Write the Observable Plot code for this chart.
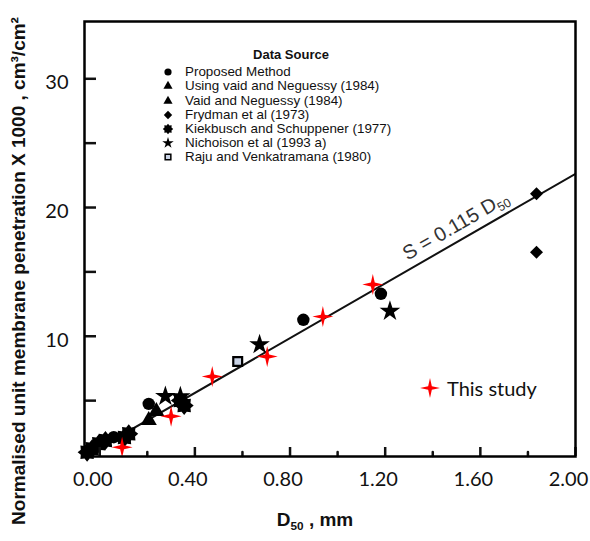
<!DOCTYPE html>
<html><head><meta charset="utf-8">
<script src="https://cdn.jsdelivr.net/npm/d3@7"></script>
<script src="https://cdn.jsdelivr.net/npm/@observablehq/plot@0.6"></script>
<style>
body{margin:0;background:#fff;}
#wrap{position:relative;width:590px;height:541px;overflow:hidden;}
.leg{position:absolute;font-family:"Liberation Sans",Arial,sans-serif;color:#111;white-space:nowrap;}
</style></head><body><div id="wrap"></div>
<script>
// ---- data ----
const proposedX = [0.059, 0.206, 0.856, 1.182];
const proposedY = [2.16, 4.75, 11.28, 13.30];
const usingVaidX = [0.238];
const usingVaidY = [4.16];
const vaidX = [0.206];
const vaidY = [3.46];
const frydmanX = [1.836, 1.836];
const frydmanY = [21.07, 16.53];
const kiekX = [-0.053, -0.032, -0.004, 0.024, 0.104, 0.122, 0.339, 0.355];
const kiekY = [0.99, 1.26, 1.65, 1.90, 2.14, 2.42, 5.01, 4.62];
const nichX = [0.276, 0.339, 0.672, 1.220];
const nichY = [5.34, 5.32, 9.36, 11.95];
const rajuX = [0.580];
const rajuY = [8.04];
const studyX = [0.094, 0.300, 0.473, 0.704, 0.938, 1.148];
const studyY = [1.38, 3.79, 6.87, 8.43, 11.53, 14.02];
const fitX = [-0.1, 2.0];
const fitY = [0.28, 22.62];
const xMajor = [0, 0.4, 0.8, 1.2, 1.6, 2.0];
const xMinor = [0.2, 0.6, 1.0, 1.4, 1.8];
const yMajor = [10, 20, 30];
const yAllTicks = [5, 10, 15, 20, 25, 30];
const legendLabels = ["Proposed Method", "Using vaid and Neguessy (1984)", "Vaid and Neguessy (1984)",
  "Frydman et al (1973)", "Kiekbusch and Schuppener (1977)", "Nichoison et al (1993 a)", "Raju and Venkatramana (1980)"];
const legendTitle = "Data Source";
const studyLabel = "This study";
const fitLabel = "S = 0.115 D50";
const fitLabelAt = {x: 1.496, y: 18.6};
const xTitle = "D50 , mm";
const yTitle = "Normalised unit membrane penetration X 1000 , cm\u00b3/cm\u00b2";

// ---- custom symbols ----
function polySym(n, innerRatio, rot = -Math.PI / 2) {
  return {draw(ctx, size) {
    const R = Math.sqrt(size / Math.PI), r = R * innerRatio;
    for (let i = 0; i < 2 * n; i++) {
      const a = rot + i * Math.PI / n, rad = i % 2 === 0 ? R : r;
      const x = rad * Math.cos(a), y = rad * Math.sin(a);
      i ? ctx.lineTo(x, y) : ctx.moveTo(x, y);
    }
    ctx.closePath();
  }};
}
const symSparkle = polySym(4, 0.26);
const symBlob = polySym(8, 0.72);
const symDiamond = {draw(ctx, size) {
  const R = Math.sqrt(size / Math.PI);
  ctx.moveTo(0, -R); ctx.lineTo(R, 0); ctx.lineTo(0, R); ctx.lineTo(-R, 0); ctx.closePath();
}};

const toRows = (xs, ys) => xs.map((x, i) => ({x, y: ys[i]}));

const chart = Plot.plot({
  width: 590, height: 541,
  marginTop: 21, marginRight: 15, marginBottom: 85, marginLeft: 84,
  x: {domain: [-0.064, 2.0]},
  y: {domain: [0.66, 34.45]},
  style: {fontFamily: "Lato, sans-serif", background: "white", color: "#111"},
  marks: [
    Plot.line(toRows(fitX, fitY), {x: "x", y: "y", stroke: "#111", strokeWidth: 2, clip: true}),
    Plot.text([{...fitLabelAt, t: fitLabel}], {x: "x", y: "y", text: "t", rotate: -30, fontSize: 20,
      fontFamily: "Liberation Sans, Arial, sans-serif", fill: "#333"}),
    Plot.dot(toRows(kiekX, kiekY), {x: "x", y: "y", symbol: symBlob, r: 9.5, fill: "black"}),
    Plot.dot(toRows(proposedX, proposedY), {x: "x", y: "y", symbol: "circle", r: 6.2, fill: "black"}),
    Plot.dot(toRows(usingVaidX, usingVaidY), {x: "x", y: "y", symbol: "triangle", r: 6, fill: "black"}),
    Plot.dot(toRows(vaidX, vaidY), {x: "x", y: "y", symbol: "triangle", r: 6, fill: "black"}),
    Plot.dot(toRows(frydmanX, frydmanY), {x: "x", y: "y", symbol: symDiamond, r: 6.5, fill: "black"}),
    Plot.dot(toRows(nichX, nichY), {x: "x", y: "y", symbol: "star", r: 6.5, fill: "black"}),
    Plot.dot(toRows(rajuX, rajuY), {x: "x", y: "y", symbol: "square", r: 5, fill: "#c9d3e6", stroke: "black", strokeWidth: 2.2}),
    Plot.dot(toRows(studyX, studyY), {x: "x", y: "y", symbol: symSparkle, r: 10.5, fill: "#ff0000"}),
    Plot.axisX({ticks: xMajor, tickSize: 0, tickPadding: 15, tickFormat: d3.format(".2f"), dx: -7, fontSize: 20, label: null}),
    Plot.axisX({ticks: xMajor, tickSize: -9, fill: "none", strokeWidth: 2.5, label: null}),
    Plot.axisX({ticks: xMinor, tickSize: -4, fill: "none", strokeWidth: 2.5, strokeLinecap: "round", label: null}),
    Plot.axisY({ticks: yMajor, tickSize: 0, tickPadding: 16, dy: 4, fontSize: 20, label: null}),
    Plot.axisY({ticks: yAllTicks, tickSize: -12, fill: "none", strokeWidth: 2.5, label: null}),
    Plot.frame({stroke: "black", strokeWidth: 2.5}),
    Plot.text([xTitle], {frameAnchor: "bottom", dy: 69, dx: -15, fontWeight: "bold", fontSize: 19,
      fontFamily: "Liberation Sans, Arial, sans-serif", fill: "#111"}),
    Plot.text([yTitle], {frameAnchor: "left", textAnchor: "middle", rotate: -90, dx: -66, dy: 32, fontWeight: "bold", fontSize: 19,
      fontFamily: "Liberation Sans, Arial, sans-serif", fill: "#111"})
  ]
});

// subscripts for "D50"
d3.select(chart).selectAll("text").each(function() {
  const t = this.textContent;
  if (this.children.length === 0 && t.includes("D50")) {
    const [a, b] = t.split("D50");
    const sel = d3.select(this);
    sel.text(null);
    sel.append("tspan").text(a + "D");
    sel.append("tspan").attr("font-size", "0.62em").attr("dy", "4").text("50");
    if (b) sel.append("tspan").attr("dy", "-4").text(b);
  }
});

const wrap = document.getElementById("wrap");
wrap.appendChild(chart);

// ---- legends (HTML overlay) ----
function symPath(type, r) { return d3.symbol(type, Math.PI * r * r)(); }
const legSyms = [
  [d3.symbolCircle, 3.6, "black", "none"],
  [d3.symbolTriangle, 3.4, "black", "none"],
  [d3.symbolTriangle, 3.4, "black", "none"],
  [symDiamond, 4.2, "black", "none"],
  [symBlob, 5.2, "black", "none"],
  [d3.symbolStar, 3.6, "black", "none"],
  [d3.symbolSquare, 3.2, "#c9d3e6", "black"]
];
const t = document.createElement("div");
t.className = "leg";
t.style.cssText = "left:291px;top:47px;transform:translateX(-50%);font-weight:bold;font-size:13px;";
t.textContent = legendTitle;
wrap.appendChild(t);
legendLabels.forEach((lab, i) => {
  const cy = 72.3 + 14.1 * i;
  const [type, r, fill, stroke] = legSyms[i];
  const d = document.createElement("div");
  d.className = "leg";
  d.style.cssText = `left:160px;top:${cy - 9}px;height:18px;line-height:18px;font-size:13.4px;`;
  d.innerHTML = `<svg width="16" height="18" style="vertical-align:top"><path transform="translate(8,9)" d="${symPath(type, r)}" fill="${fill}" stroke="${stroke}" stroke-width="1.5"/></svg><span style="margin-left:9px">${lab}</span>`;
  wrap.appendChild(d);
});
const s = document.createElement("div");
s.className = "leg";
s.style.cssText = "left:418px;top:376px;height:24px;line-height:24px;font-size:20px;font-family:Lato,sans-serif;";
s.innerHTML = `<svg width="24" height="24" style="vertical-align:top"><path transform="translate(12,12)" d="${symPath(symSparkle, 10)}" fill="#ff0000"/></svg><span style="margin-left:5px">${studyLabel}</span>`;
wrap.appendChild(s);
</script>
</body></html>
